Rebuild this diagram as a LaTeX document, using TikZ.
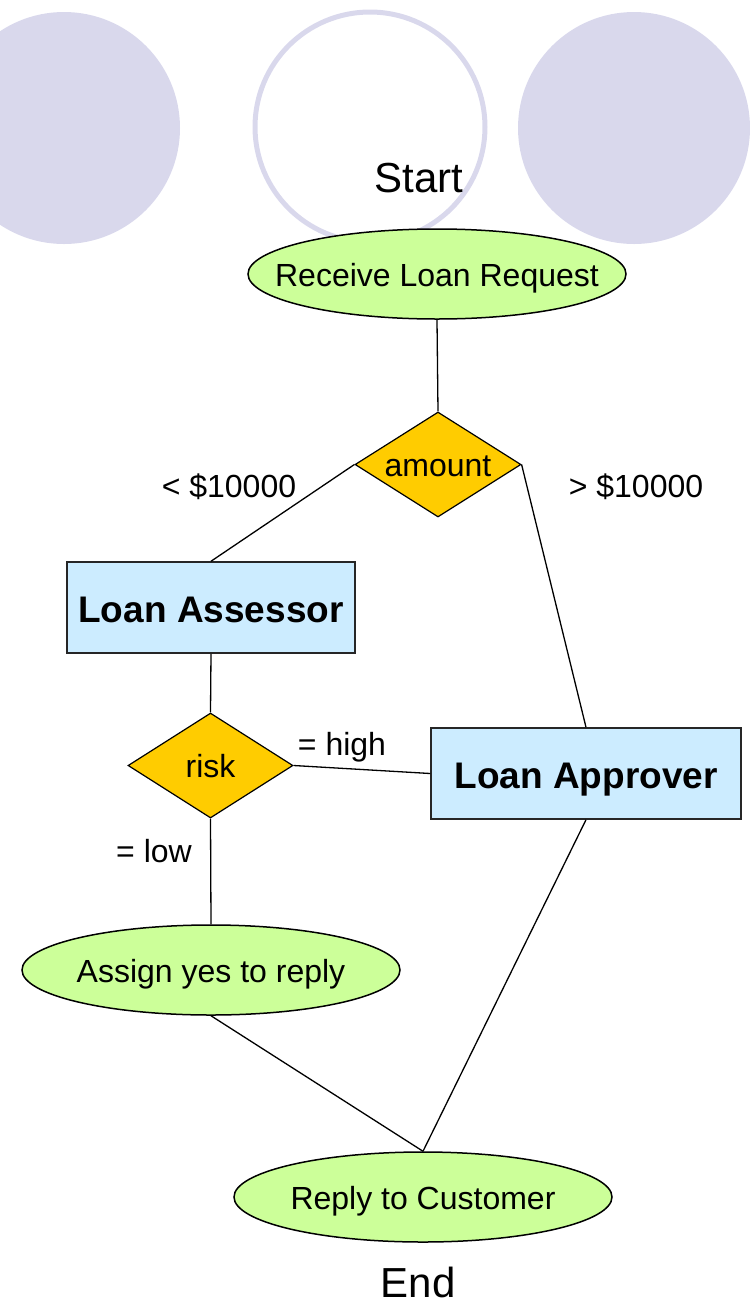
\documentclass[tikz,border=0pt]{standalone}
\usepackage{fontspec}
\setmainfont{Liberation Sans}
\usetikzlibrary{shapes.geometric}

\definecolor{lavender}{RGB}{217,216,236}
\definecolor{taskgreen}{RGB}{204,255,153}
\definecolor{rolelblue}{RGB}{204,236,255}
\definecolor{choicegold}{RGB}{255,204,0}

\begin{document}
\begin{tikzpicture}[x=1pt,y=-1pt,
  normaltext/.style={font=\fontsize{32}{38}\selectfont},
  bigtext/.style={font=\fontsize{42}{50}\selectfont, inner sep=0pt, anchor=base},
  tasktext/.style={normaltext, inner sep=0pt, text height=25pt, text depth=0pt},
  task/.style={ellipse, draw=black, line width=1.5pt, fill=taskgreen,
    minimum width=378pt, minimum height=90pt, inner sep=0pt},
  role/.style={rectangle, draw=black!85, line width=1.5pt, fill=rolelblue,
    minimum height=91pt, inner sep=0pt, text height=29pt, text depth=0pt,
    font=\fontsize{37}{44}\selectfont\bfseries},
  choice/.style={diamond, aspect=1.58, draw=black, line width=1.2pt, fill=choicegold,
    minimum width=166pt, minimum height=105pt, inner sep=0pt,
    text height=23.5pt, text depth=0pt, normaltext},
  edgetext/.style={normaltext, inner sep=0pt, anchor=base},
  link/.style={draw=black, line width=1.3pt}]

\useasboundingbox (0,0) rectangle (750,1302);
\clip (0,0) rectangle (750,1302);

% decorative circles behind the start
\fill[lavender] (64,128) circle (116pt);
\draw[lavender, line width=5pt] (370,127) circle (115pt);
\fill[lavender] (634,128) circle (116pt);

\node[bigtext] (start) at (419,192) {Start};

% activities
\node[task, label={[tasktext]center:Receive Loan Request}] (recv) at (437,274) {};
\node[choice] (amount) at (438,464.5) {amount};
\node[role, minimum width=288pt] (assessor) at (211,607.5) {Loan Assessor};
\node[role, minimum width=310pt] (approver) at (586,773.5) {Loan Approver};
\node[choice, minimum width=165pt] (risk) at (210.5,765.5) {risk};
\node[task, label={[tasktext]center:Assign yes to reply}] (assign) at (211,970) {};
\node[task, label={[tasktext]center:Reply to Customer}] (reply) at (423,1197) {};

\node[bigtext] (end) at (418,1297) {End};

% condition labels
\node[edgetext] (lt) at (229,497) {< \$10000};
\node[edgetext] (gt) at (636,497) {> \$10000};
\node[edgetext] (high) at (342,755) {= high};
\node[edgetext] (low) at (154,862) {= low};

% connectors
\draw[link] (recv.south) -- (amount.north);
\draw[link] (amount.west) -- (assessor.north);
\draw[link] (amount.east) -- (approver.north);
\draw[link] (assessor.south) -- (risk.north);
\draw[link] (risk.east) -- (approver.west);
\draw[link] (risk.south) -- (assign.north);
\draw[link] (assign.south) -- (reply.north);
\draw[link] (approver.south) -- (reply.north);
\end{tikzpicture}
\end{document}
